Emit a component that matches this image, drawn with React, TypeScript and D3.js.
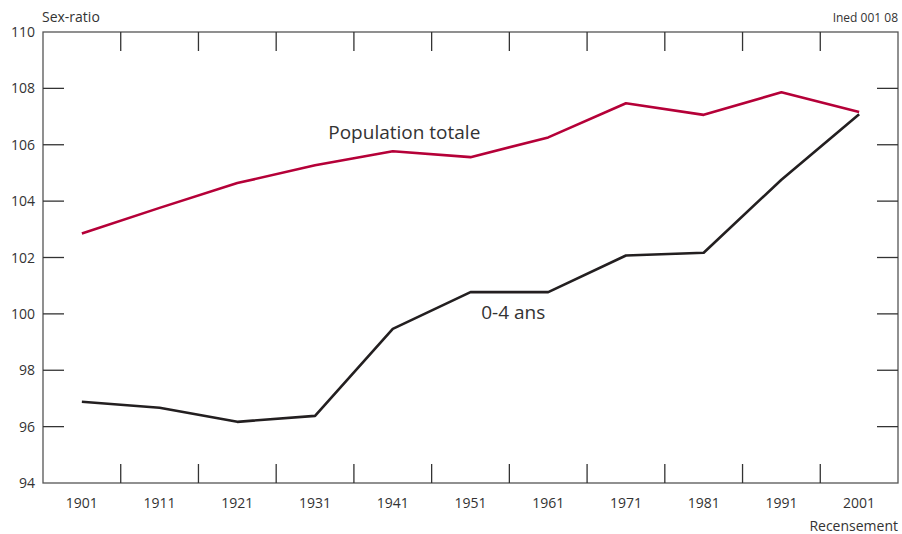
import React, { useRef, useEffect } from 'react';
import * as d3 from 'd3';

const years = [1901, 1911, 1921, 1931, 1941, 1951, 1961, 1971, 1981, 1991, 2001];
const totale = [102.85, 103.76, 104.64, 105.27, 105.77, 105.56, 106.26, 107.47, 107.06, 107.86, 107.16];
const enfants = [96.88, 96.67, 96.17, 96.38, 99.47, 100.77, 100.77, 102.07, 102.17, 104.76, 107.08];
const yTicks = [94, 96, 98, 100, 102, 104, 106, 108, 110];
const sepTicks = [1906, 1916, 1926, 1936, 1946, 1956, 1966, 1976, 1986, 1996];

const App = () => {
  const ref = useRef<SVGSVGElement>(null);

  useEffect(() => {
    const svg = d3.select(ref.current);
    svg.selectAll('*').remove();

    const margin = { top: 32, right: 4, bottom: 51, left: 43 };
    const W = 902, H = 534;
    const x = d3.scaleLinear().domain([1896, 2006]).range([margin.left, W - margin.right]);
    const y = d3.scaleLinear().domain([94, 110]).range([H - margin.bottom, margin.top]);
    const font = '"Open Sans", "Noto Sans", sans-serif';
    const axisCol = '#555';
    const textCol = '#333';

    // frame
    svg.append('rect')
      .attr('x', x(1896)).attr('y', y(110))
      .attr('width', x(2006) - x(1896)).attr('height', y(94) - y(110))
      .attr('fill', 'none').attr('stroke', axisCol).attr('stroke-width', 1.3);

    // tick marks
    sepTicks.forEach(t => {
      svg.append('line').attr('x1', x(t)).attr('x2', x(t))
        .attr('y1', y(110)).attr('y2', y(110) + 19)
        .attr('stroke', '#333').attr('stroke-width', 1.3);
      svg.append('line').attr('x1', x(t)).attr('x2', x(t))
        .attr('y1', y(94)).attr('y2', y(94) - 19)
        .attr('stroke', '#333').attr('stroke-width', 1.3);
    });
    yTicks.slice(1, -1).forEach(t => {
      svg.append('line').attr('x1', x(1896)).attr('x2', x(1896) + 21)
        .attr('y1', y(t)).attr('y2', y(t))
        .attr('stroke', '#333').attr('stroke-width', 1.3);
      svg.append('line').attr('x1', x(2006)).attr('x2', x(2006) - 21)
        .attr('y1', y(t)).attr('y2', y(t))
        .attr('stroke', '#333').attr('stroke-width', 1.3);
    });

    // tick labels
    svg.selectAll('.ylab').data(yTicks).enter().append('text')
      .attr('x', 35).attr('y', d => y(d)).attr('dy', '0.36em')
      .attr('text-anchor', 'end').attr('font-family', font).attr('font-size', 14)
      .attr('fill', textCol).text(d => d);
    svg.selectAll('.xlab').data(years).enter().append('text')
      .attr('x', d => x(d)).attr('y', 508)
      .attr('text-anchor', 'middle').attr('font-family', font).attr('font-size', 14)
      .attr('fill', textCol).text(d => d);

    svg.append('text').attr('x', 42).attr('y', 22).attr('font-family', font)
      .attr('font-size', 14).attr('fill', textCol).text('Sex-ratio');
    svg.append('text').attr('x', 898).attr('y', 22).attr('text-anchor', 'end')
      .attr('font-family', font).attr('font-size', 12).attr('fill', textCol).text('Ined 001 08');
    svg.append('text').attr('x', 898).attr('y', 531).attr('text-anchor', 'end')
      .attr('font-family', font).attr('font-size', 14).attr('fill', textCol).text('Recensement');

    // lines
    const line = d3.line<number>().x((_, i) => x(years[i])).y(d => y(d));
    svg.append('path').datum(totale).attr('d', line)
      .attr('fill', 'none').attr('stroke', '#b50038').attr('stroke-width', 2.6)
      .attr('stroke-linejoin', 'round');
    svg.append('path').datum(enfants).attr('d', line)
      .attr('fill', 'none').attr('stroke', '#231f20').attr('stroke-width', 2.6)
      .attr('stroke-linejoin', 'round');

    // series labels
    svg.append('text').attr('x', x(1932.7)).attr('y', 139).attr('font-family', font)
      .attr('font-size', 19).attr('fill', textCol).text('Population totale');
    svg.append('text').attr('x', x(1956.5)).attr('y', 319).attr('text-anchor', 'middle')
      .attr('font-family', font).attr('font-size', 19).attr('fill', textCol).text('0-4 ans');
  }, []);

  return (
    <svg ref={ref} width={902} height={534}
      style={{ position: 'absolute', left: 0, top: 0, background: '#fff' }} />
  );
};

export default App;
